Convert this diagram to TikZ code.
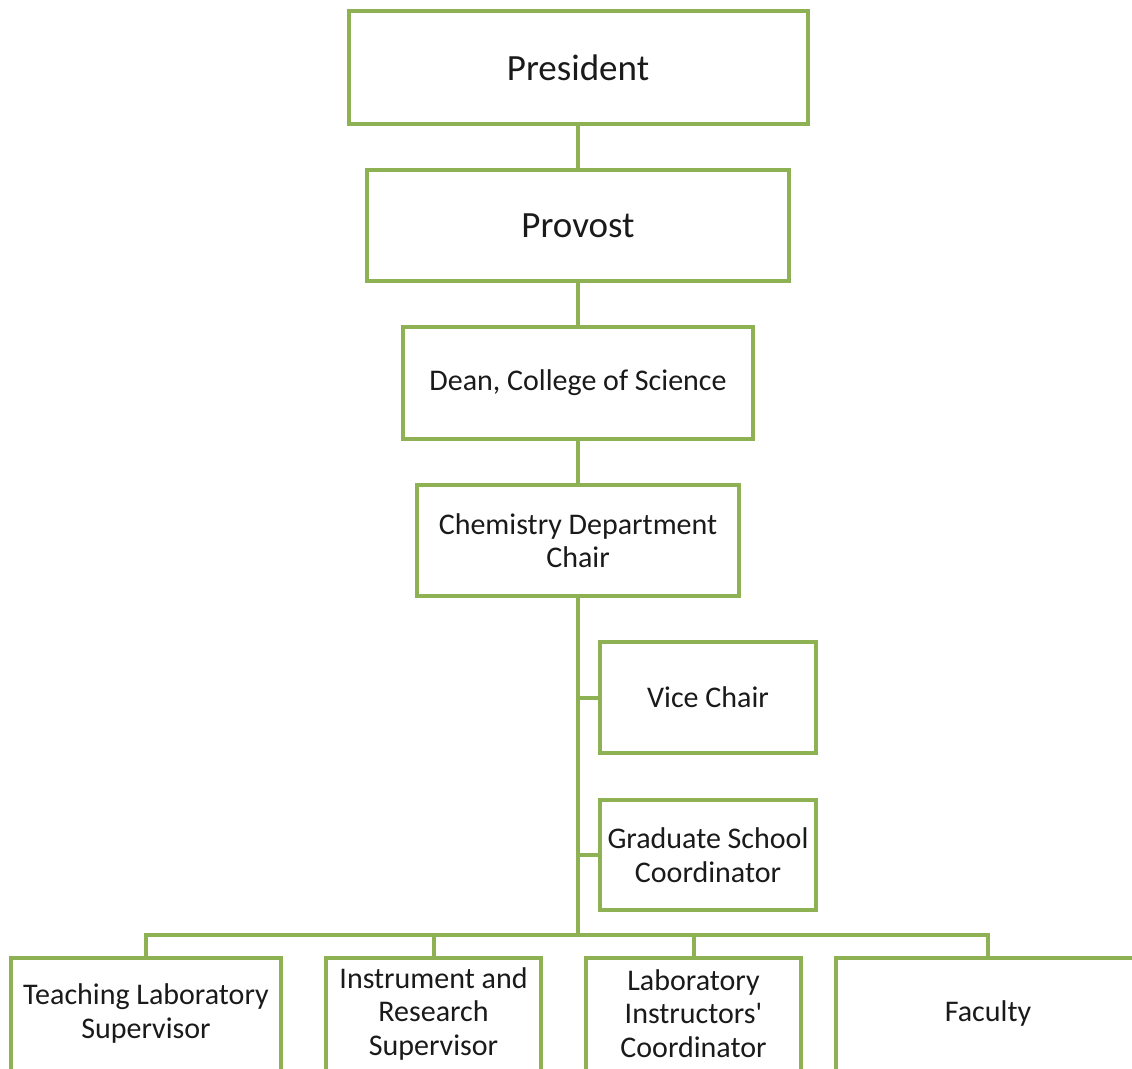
\documentclass[tikz,border=0pt]{standalone}
\usepackage{fontspec}
\setmainfont{Carlito}
\definecolor{boxgreen}{HTML}{8DB153}
\definecolor{inkgray}{HTML}{1A1A1A}
\begin{document}
\begin{tikzpicture}[x=1pt,y=-1pt,
  orgbox/.style={draw=boxgreen, line width=4pt, fill=white, rectangle, inner sep=0pt,
    align=center, text=inkgray, font=\fontsize{30}{33.5}\selectfont},
  bigbox/.style={orgbox, font=\fontsize{37}{40}\selectfont},
  lowbox/.style={orgbox, draw=none, outer sep=0pt},
  link/.style={draw=boxgreen, line width=4pt}]
\useasboundingbox (0,0) rectangle (1132,1068);
% top chain
\node[bigbox, minimum width=459pt, minimum height=113pt] (pres) at (578,67.5) {President};
\node[bigbox, minimum width=422pt, minimum height=111pt] (prov) at (578,225.5) {Provost};
\node[orgbox, minimum width=350pt, minimum height=112pt] (dean) at (578,383) {Dean, College of Science};
\node[orgbox, minimum width=322pt, minimum height=111pt] (chair) at (578,540.5) {Chemistry Department\\Chair};
% staff boxes to the right of the trunk
\node[orgbox, minimum width=216pt, minimum height=111pt] (vice) at (708,697.5) {Vice Chair};
\node[orgbox, minimum width=216pt, minimum height=110pt] (grad) at (708,855) {Graduate School\\Coordinator};
% bottom row (boxes run on past the lower edge)
\node[lowbox, minimum width=270pt, minimum height=111pt] (teach) at (146,1013.5) {Teaching Laboratory\\Supervisor};
\node[lowbox, minimum width=215pt, minimum height=111pt] (instr) at (433.5,1013.5) {Instrument and\\Research\\Supervisor};
\node[lowbox, minimum width=215pt, minimum height=111pt] (labc) at (693.5,1013.5) {Laboratory\\Instructors\textquotesingle\\Coordinator};
\node[lowbox, minimum width=304pt, minimum height=111pt] (fac) at (988,1013.5) {Faculty};
\foreach \b in {teach,instr,labc,fac}
  \draw[link] ([yshift=-20pt]\b.south west) -- (\b.north west) -- (\b.north east) -- ([yshift=-20pt]\b.south east);
\coordinate (bus) at (578,935);
% connectors
\draw[link] (pres.south) -- (prov.north);
\draw[link] (prov.south) -- (dean.north);
\draw[link] (dean.south) -- (chair.north);
\draw[link] (chair.south) -- (bus);
\draw[link] (vice.west) -- (vice.west -| bus);
\draw[link] (grad.west) -- (grad.west -| bus);
\draw[link] (teach.north) |- (fac.north |- bus) -- (fac.north);
\draw[link] (instr.north) -- (instr.north |- bus);
\draw[link] (labc.north) -- (labc.north |- bus);
\end{tikzpicture}
\end{document}
